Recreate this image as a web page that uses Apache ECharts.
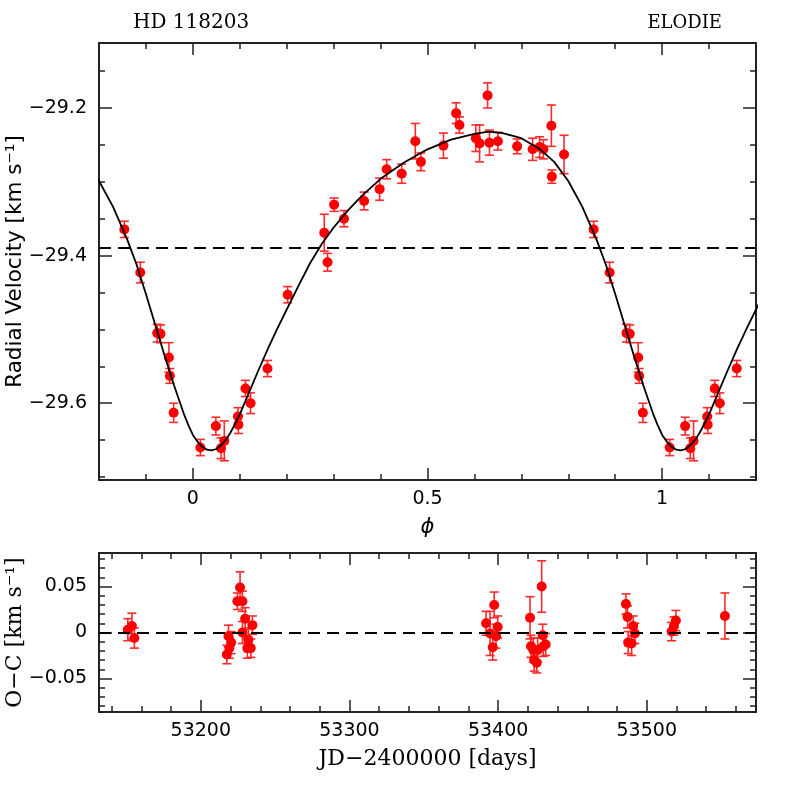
<!DOCTYPE html>
<html>
<head>
<meta charset="utf-8">
<script src="https://cdn.jsdelivr.net/npm/echarts@6/dist/echarts.min.js"></script>
<style>
  html, body { margin: 0; padding: 0; background: #fff; }
  #chart { width: 797px; height: 797px; }
</style>
</head>
<body>
<div id="chart"></div>
<script>
// phase-folded radial velocities (phase, RV km/s, error)
const phase = [0.016, 0.049, 0.060, 0.067, 0.096, 0.097, 0.112, 0.123, 0.159, 0.202,
  0.280, 0.287, 0.301, 0.322, 0.365, 0.398, 0.413, 0.445, 0.474, 0.486,
  0.534, 0.561, 0.568, 0.603, 0.611, 0.628, 0.632, 0.650, 0.691, 0.724,
  0.739, 0.747, 0.764, 0.765, 0.791, 0.854, 0.888, 0.924, 0.931, 0.949,
  0.951, 0.959]
const rv = [-29.660, -29.631, -29.661, -29.651, -29.618, -29.629, -29.580, -29.600, -29.553, -29.453,
  -29.369, -29.409, -29.331, -29.350, -29.326, -29.310, -29.283, -29.289, -29.245, -29.273,
  -29.251, -29.207, -29.223, -29.241, -29.248, -29.183, -29.247, -29.245, -29.252, -29.256,
  -29.253, -29.256, -29.224, -29.293, -29.263, -29.3645, -29.423, -29.505, -29.506, -29.538,
  -29.563, -29.613]
const rvErr = [0.011, 0.012, 0.014, 0.027, 0.012, 0.012, 0.011, 0.014, 0.011, 0.011,
  0.025, 0.012, 0.009, 0.011, 0.012, 0.015, 0.013, 0.013, 0.024, 0.012,
  0.017, 0.014, 0.011, 0.018, 0.025, 0.017, 0.017, 0.012, 0.010, 0.015,
  0.014, 0.013, 0.028, 0.009, 0.026, 0.011, 0.014, 0.012, 0.012, 0.020,
  0.010, 0.013]

// orbital fit
const fitPhase = [0.000, 0.010, 0.020, 0.030, 0.040, 0.050, 0.060, 0.070, 0.080, 0.090,
  0.100, 0.120, 0.140, 0.160, 0.180, 0.200, 0.225, 0.250, 0.275, 0.300,
  0.330, 0.360, 0.400, 0.450, 0.500, 0.550, 0.600, 0.630, 0.660, 0.700,
  0.740, 0.770, 0.800, 0.830, 0.860, 0.880, 0.900, 0.920, 0.940, 0.960,
  0.980, 0.990]
const fitRv = [-29.643, -29.652, -29.659, -29.663, -29.664, -29.662, -29.657, -29.650, -29.640, -29.628,
  -29.615, -29.585, -29.555, -29.526, -29.499, -29.473, -29.441, -29.410, -29.384, -29.362,
  -29.339, -29.319, -29.296, -29.274, -29.256, -29.243, -29.235, -29.232, -29.234, -29.241,
  -29.256, -29.273, -29.299, -29.334, -29.378, -29.412, -29.452, -29.494, -29.536, -29.576,
  -29.613, -29.629]
const gamma = -29.388

// residuals against time
const jd = [53150.9, 53153.6, 53155.3, 53217.5, 53218.6, 53219.2, 53220.4, 53224.6, 53226.4, 53228.0,
  53228.0, 53229.8, 53232.0, 53231.3, 53233.6, 53234.7, 53391.9, 53394.6, 53397.4, 53396.4,
  53398.6, 53399.7, 53421.5, 53422.1, 53423.7, 53424.3, 53426.0, 53426.6, 53429.3, 53430.0,
  53430.4, 53432.0, 53486.0, 53487.1, 53487.5, 53489.8, 53490.9, 53492.0, 53516.7, 53518.3,
  53519.6, 53552.6]
const oc = [0.003, 0.007, -0.006, -0.024, -0.004, -0.017, -0.011, 0.034, 0.049, 0.034,
  0.000, 0.015, -0.008, -0.017, -0.017, 0.008, 0.010, -0.001, 0.030, -0.016,
  -0.004, 0.006, 0.016, -0.015, -0.019, -0.030, -0.033, -0.019, 0.050, -0.003,
  -0.015, -0.013, 0.031, 0.017, -0.011, -0.012, 0.007, -0.001, 0.001, 0.007,
  0.013, 0.018]
const ocErr = [0.012, 0.014, 0.011, 0.010, 0.012, 0.011, 0.012, 0.009, 0.017, 0.011,
  0.012, 0.012, 0.013, 0.011, 0.010, 0.010, 0.013, 0.024, 0.014, 0.014,
  0.013, 0.012, 0.023, 0.012, 0.013, 0.012, 0.011, 0.013, 0.028, 0.012,
  0.011, 0.012, 0.011, 0.012, 0.012, 0.013, 0.011, 0.011, 0.010, 0.010,
  0.011, 0.025]

// tick positions
const phaseMajor = [0, 0.5, 1]
const phaseMinor = [-0.1, 0.1, 0.2, 0.3, 0.4, 0.6, 0.7, 0.8, 0.9, 1.1]
const rvMajor = [-29.6, -29.4, -29.2]
const rvMinor = [-29.7, -29.65, -29.55, -29.5, -29.45, -29.35, -29.3, -29.25, -29.15]
const jdMajor = [53200, 53300, 53400, 53500]
const jdMinor = [53140, 53160, 53180, 53220, 53240, 53260, 53280, 53320, 53340, 53360, 53380,
  53420, 53440, 53460, 53480, 53520, 53540, 53560]
const ocMajor = [-0.05, 0, 0.05]
const ocMinor = [-0.08, -0.07, -0.06, -0.04, -0.03, -0.02, -0.01, 0.01, 0.02, 0.03, 0.04, 0.06, 0.07, 0.08]

const PH_MIN = -0.2, PH_MAX = 1.2

// fold points to the plotted phase range
const rvPts = []
phase.forEach((p, i) => {
  [-1, 0, 1].forEach(k => {
    const q = p + k
    if (q >= PH_MIN && q <= PH_MAX) rvPts.push([q, rv[i], rvErr[i]])
  })
})
const fitPts = []
;[-1, 0, 1, 2].forEach(k => {
  fitPhase.forEach((p, i) => {
    const q = p + k
    if (q >= -0.3 && q <= 1.3) fitPts.push([q, fitRv[i]])
  })
})
fitPts.sort((a, b) => a[0] - b[0])
const ocPts = jd.map((d, i) => [d, oc[i], ocErr[i]])

const AX = '#222'
const lblFont = { fontFamily: 'DejaVu Sans', fontSize: 19, color: '#000' }
const minus = s => s.replace('-', '\u2212')

function errBar(params, api) {
  const x = api.value(0), y = api.value(1), e = api.value(2)
  const lo = api.coord([x, y - e])
  const hi = api.coord([x, y + e])
  const w = 4.5
  const st = { stroke: '#ff2a2a', lineWidth: 1.6 }
  return {
    type: 'group',
    children: [
      { type: 'line', shape: { x1: lo[0], y1: lo[1], x2: hi[0], y2: hi[1] }, style: st },
      { type: 'line', shape: { x1: lo[0] - w, y1: lo[1], x2: lo[0] + w, y2: lo[1] }, style: st },
      { type: 'line', shape: { x1: hi[0] - w, y1: hi[1], x2: hi[0] + w, y2: hi[1] }, style: st }
    ]
  }
}

// one visible axis with major ticks + labels, plus helpers for minor ticks and mirrored sides
function tickAxis(base, pos, len, vals, line) {
  return Object.assign({}, base, {
    position: pos,
    axisLine: { show: line, onZero: false, lineStyle: { color: AX, width: 2 } },
    axisTick: { show: true, inside: true, length: len, customValues: vals, lineStyle: { color: AX, width: 1.5 } },
    axisLabel: { show: false }
  })
}
function xAxes(grid, min, max, major, minor, fmt, name, nameGap, nameStyle) {
  const base = { gridIndex: grid, type: 'value', min: min, max: max, splitLine: { show: false } }
  return [
    Object.assign({}, base, {
      position: 'bottom',
      name: name, nameLocation: 'middle', nameGap: nameGap, nameTextStyle: nameStyle, nameMoveOverlap: false,
      axisLine: { show: true, onZero: false, lineStyle: { color: AX, width: 2 } },
      axisTick: { show: true, inside: true, length: 12, customValues: major, lineStyle: { color: AX, width: 1.5 } },
      axisLabel: Object.assign({ show: true, margin: 10, customValues: major, formatter: fmt }, lblFont)
    }),
    tickAxis(base, 'bottom', 6, minor, false),
    tickAxis(base, 'top', 12, major, true),
    tickAxis(base, 'top', 6, minor, false)
  ]
}
function yAxes(grid, min, max, major, minor, fmt, name, nameGap, nameStyle) {
  const base = { gridIndex: grid, type: 'value', min: min, max: max, splitLine: { show: false } }
  return [
    Object.assign({}, base, {
      position: 'left',
      name: name, nameLocation: 'middle', nameGap: nameGap, nameRotate: 90, nameTextStyle: nameStyle, nameMoveOverlap: false,
      axisLine: { show: true, onZero: false, lineStyle: { color: AX, width: 2 } },
      axisTick: { show: true, inside: true, length: 13, customValues: major, lineStyle: { color: AX, width: 1.5 } },
      axisLabel: Object.assign({ show: true, margin: 12, customValues: major, formatter: fmt }, lblFont)
    }),
    tickAxis(base, 'left', 6, minor, false),
    tickAxis(base, 'right', 13, major, true),
    tickAxis(base, 'right', 6, minor, false)
  ]
}

const nameSans = { fontFamily: 'DejaVu Sans', fontSize: 21.5, color: '#000' }
const nameSerif = { fontFamily: 'DejaVu Serif', fontSize: 22, color: '#000' }

const option = {
  backgroundColor: '#fff',
  animation: false,
  title: [
    { text: 'HD 118203', left: 133, top: 13, padding: 0, textStyle: { fontFamily: 'DejaVu Serif', fontSize: 20, fontWeight: 'normal', color: '#000' } },
    { text: 'ELODIE', right: 75, top: 14, padding: 0, textStyle: { fontFamily: 'DejaVu Serif', fontSize: 18, fontWeight: 'normal', color: '#000' } }
  ],
  grid: [
    { left: 99, top: 43, width: 657, height: 437, outerBoundsMode: 'none', containLabel: false },
    { left: 99, top: 553, width: 657, height: 159, outerBoundsMode: 'none', containLabel: false }
  ],
  xAxis: [].concat(
    xAxes(0, PH_MIN, PH_MAX, phaseMajor, phaseMinor, v => String(v), '\u03d5', 37,
      { fontFamily: 'DejaVu Sans', fontSize: 21, fontStyle: 'italic', color: '#000' }),
    xAxes(1, 53131.5, 53573.5, jdMajor, jdMinor, v => String(v), 'JD\u22122400000 [days]', 36, nameSerif)
  ),
  yAxis: [].concat(
    yAxes(0, -29.704, -29.112, rvMajor, rvMinor, v => minus(v.toFixed(1)),
      'Radial Velocity [km s\u207b\u00b9]', 73, nameSans),
    yAxes(1, -0.0865, 0.0865, ocMajor, ocMinor, v => (v === 0 ? '0' : minus(String(v))),
      'O\u2212C [km s\u207b\u00b9]', 73, nameSerif)
  ),
  series: [
    {
      type: 'custom', xAxisIndex: 0, yAxisIndex: 0, z: 2,
      renderItem: errBar, encode: { x: 0, y: 1 }, data: rvPts
    },
    {
      type: 'scatter', xAxisIndex: 0, yAxisIndex: 0, z: 3,
      symbol: 'circle', symbolSize: 10,
      itemStyle: { color: '#ff0000', opacity: 1 },
      data: rvPts.map(d => [d[0], d[1]])
    },
    {
      type: 'line', xAxisIndex: 0, yAxisIndex: 0, z: 4,
      showSymbol: false, smooth: false, clip: true,
      lineStyle: { color: '#000', width: 1.8 },
      data: fitPts,
      markLine: {
        silent: true, symbol: 'none', label: { show: false },
        lineStyle: { color: '#000', width: 1.8, type: [12, 7] },
        data: [{ yAxis: gamma }]
      }
    },
    {
      type: 'custom', xAxisIndex: 4, yAxisIndex: 4, z: 2,
      renderItem: errBar, encode: { x: 0, y: 1 }, data: ocPts
    },
    {
      type: 'scatter', xAxisIndex: 4, yAxisIndex: 4, z: 3,
      symbol: 'circle', symbolSize: 10,
      itemStyle: { color: '#ff0000', opacity: 1 },
      data: ocPts.map(d => [d[0], d[1]]),
      markLine: {
        silent: true, symbol: 'none', label: { show: false },
        lineStyle: { color: '#000', width: 1.8, type: [12, 7] },
        data: [{ yAxis: 0 }]
      }
    }
  ]
}

const myChart = echarts.init(document.getElementById('chart'))
myChart.setOption(option)
</script>
</body>
</html>
